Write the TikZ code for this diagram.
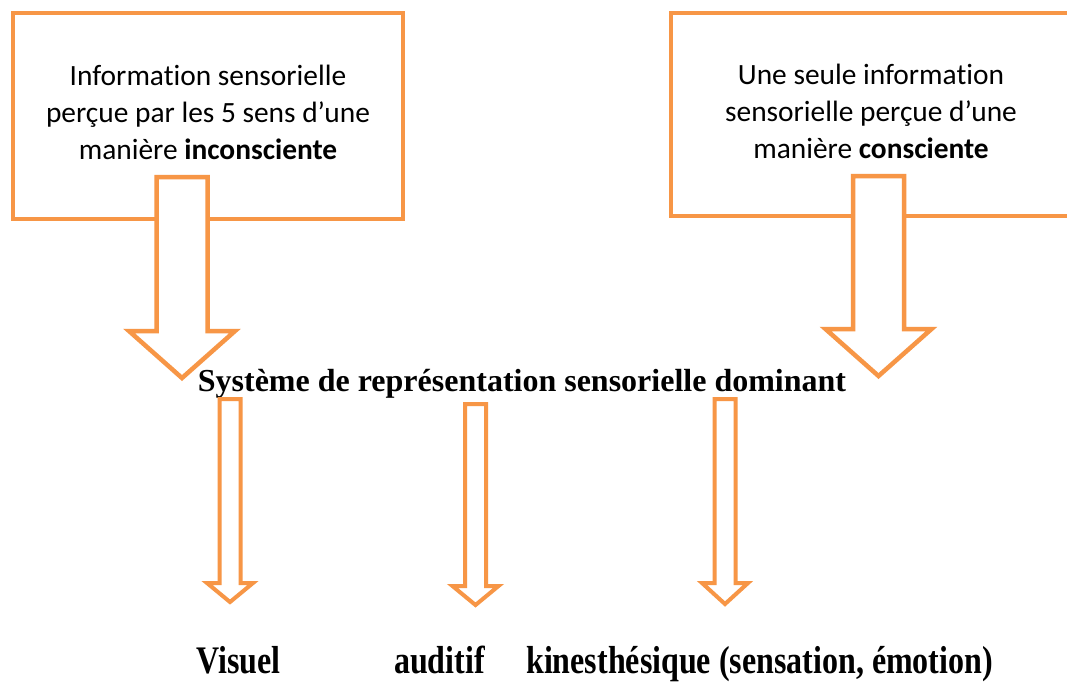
\documentclass[tikz,border=0pt]{standalone}
\usepackage{fontspec}
\usepackage{graphicx}
\setmainfont{Liberation Serif}
\newfontfamily\boxfont[Ligatures={NoCommon}]{Carlito}
\definecolor{acc}{HTML}{F79646}
\newcommand{\myblockarrow}[7]{%
  \draw[#7] ({#1-#5},#2) -- ({#1+#5},#2) -- ({#1+#5},#3) -- ({#1+#6},#3)
    -- (#1,#4) -- ({#1-#6},#3) -- ({#1-#5},#3) -- cycle;}
\begin{document}
\begin{tikzpicture}[x=1pt,y=-1pt,
  boxstyle/.style={draw=acc,line width=4.5pt,fill=white},
  bigarrow/.style={draw=acc,line width=4.5pt,fill=white},
  smallarrow/.style={draw=acc,line width=4pt,fill=white},
  boxtext/.style={align=center,font=\boxfont\fontsize{29.4}{37}\selectfont,inner sep=0pt},
  serif/.style={font=\bfseries\fontsize{32}{36}\selectfont,inner sep=0pt,anchor=base west}]
\clip (0,0) rectangle (1067,681);
\fill[white] (0,0) rectangle (1067,681);
% boxes
\draw[boxstyle] (13,13) rectangle (403,219);
\draw[boxstyle] (671,13) rectangle (1090,216);
\node[boxtext] (tL) at (208,112) {Information sensorielle\\perçue par les 5 sens d’une\\manière \textbf{inconsciente}};
\node[boxtext] (tR) at (871,111) {Une seule information\\sensorielle perçue d’une\\manière \textbf{consciente}};
% big arrows
\myblockarrow{182}{177}{331}{378}{25.5}{53}{bigarrow}
\myblockarrow{878.5}{176}{329}{376}{25.5}{53}{bigarrow}
% middle title
\node[serif,anchor=base] (sys) at (522,391) {Système de représentation sensorielle dominant};
% small arrows
\myblockarrow{230}{399}{583}{602}{10.5}{23}{smallarrow}
\myblockarrow{475.5}{404}{586}{605}{10.5}{23}{smallarrow}
\myblockarrow{725}{399}{583}{604}{10.5}{23}{smallarrow}
% bottom labels
\node[serif] (vis) at (196,673) {\scalebox{1}[1.22]{Visuel}};
\node[serif] (aud) at (394,673) {\scalebox{1}[1.22]{auditif}};
\node[serif] (kin) at (526,673) {\scalebox{1}[1.22]{kinesthésique (sensation, émotion)}};
\end{tikzpicture}
\end{document}
